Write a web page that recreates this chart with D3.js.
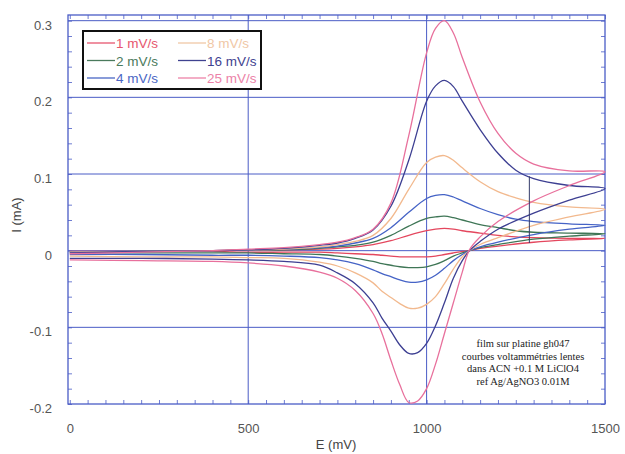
<!DOCTYPE html>
<html><head><meta charset="utf-8">
<script src="https://cdn.jsdelivr.net/npm/d3@7"></script>
<style>body{margin:0;background:#fff}svg{display:block}</style>
</head><body><div id="chart"></div>
<script>
// ---- data ----
const seriesLabels = ["1 mV/s","2 mV/s","4 mV/s","8 mV/s","16 mV/s","25 mV/s"];
const seriesColors = ["#e4475e","#3f7656","#4563c6","#f2b98e","#3d3f92","#e8709c"];
const legendColors = ["#e6566e","#4a7a5c","#4a66c4","#f0c7a6","#3f4290","#ec82a8"];
const xTicks = [0,500,1000,1500];
const yTicks = [-0.2,-0.1,0,0.1,0.2,0.3];
const yTickLabels = ["-0.2","-0.1","0","0.1","0.2","0.3"];
const xGrid = [500,1000];
const yGrid = [-0.1,0,0.1,0.2,0.3];
// forward (anodic) scan potentials, mV
const eForward = [0,200,400,500,600,700,750,800,850,900,950,1000,1025,1050,1075,1100,1150,1200,1250,1300,1400,1500];
// reverse (cathodic) scan potentials, mV
const eReverse = [1500,1400,1300,1200,1150,1120,1100,1075,1050,1025,1000,975,950,925,900,875,850,800,750,700,600,500,400,200,0];
// currents, mA
const fwd1  = [-0.001,-0.001,0,0.001,0.001,0.002,0.003,0.005,0.008,0.013,0.020,0.026,0.028,0.029,0.028,0.026,0.023,0.020,0.018,0.017,0.016,0.016];
const fwd2  = [-0.002,-0.001,0,0.001,0.001,0.003,0.005,0.007,0.011,0.020,0.032,0.042,0.044,0.045,0.043,0.040,0.034,0.030,0.026,0.024,0.023,0.022];
const fwd4  = [-0.002,-0.001,0,0.001,0.002,0.004,0.006,0.010,0.016,0.030,0.050,0.068,0.072,0.073,0.070,0.065,0.055,0.047,0.041,0.038,0.035,0.033];
const fwd8  = [-0.002,-0.001,0,0.001,0.002,0.005,0.008,0.012,0.020,0.042,0.080,0.115,0.122,0.124,0.118,0.108,0.090,0.077,0.069,0.063,0.057,0.054];
const fwd16 = [-0.003,-0.001,0,0.001,0.003,0.007,0.010,0.016,0.027,0.058,0.118,0.195,0.215,0.222,0.214,0.195,0.158,0.127,0.105,0.094,0.085,0.081];
const fwd25 = [-0.004,-0.002,0,0.002,0.004,0.008,0.011,0.017,0.028,0.062,0.150,0.258,0.290,0.300,0.284,0.252,0.194,0.153,0.127,0.113,0.104,0.103];
const rev1  = [0.016,0.014,0.011,0.006,0.003,0.000,-0.001,-0.003,-0.005,-0.007,-0.008,-0.008,-0.008,-0.008,-0.007,-0.006,-0.005,-0.004,-0.003,-0.002,-0.002,-0.002,-0.001,-0.001,-0.001];
const rev2  = [0.022,0.019,0.015,0.008,0.004,0.000,-0.003,-0.007,-0.013,-0.018,-0.021,-0.022,-0.022,-0.021,-0.019,-0.017,-0.014,-0.010,-0.007,-0.005,-0.004,-0.003,-0.003,-0.003,-0.003];
const rev4  = [0.033,0.028,0.021,0.011,0.005,0.000,-0.005,-0.013,-0.023,-0.032,-0.038,-0.041,-0.041,-0.038,-0.034,-0.030,-0.025,-0.017,-0.012,-0.009,-0.007,-0.006,-0.006,-0.005,-0.005];
const rev8  = [0.054,0.044,0.033,0.017,0.008,0.000,-0.008,-0.024,-0.043,-0.060,-0.070,-0.075,-0.075,-0.069,-0.061,-0.053,-0.042,-0.029,-0.020,-0.015,-0.010,-0.009,-0.008,-0.008,-0.007];
const rev16 = [0.081,0.066,0.049,0.028,0.012,0.000,-0.013,-0.036,-0.068,-0.098,-0.121,-0.133,-0.134,-0.123,-0.105,-0.088,-0.068,-0.043,-0.029,-0.019,-0.014,-0.012,-0.011,-0.010,-0.010];
const rev25 = [0.103,0.085,0.065,0.038,0.018,0.001,-0.028,-0.068,-0.108,-0.148,-0.180,-0.196,-0.198,-0.175,-0.143,-0.108,-0.082,-0.052,-0.036,-0.028,-0.020,-0.016,-0.014,-0.013,-0.012];
const forwardSets = [fwd1,fwd2,fwd4,fwd8,fwd16,fwd25];
const reverseSets = [rev1,rev2,rev4,rev8,rev16,rev25];
// drawn vertical marker line in the original
const markerE = [1288,1288];
const markerI = [0.010,0.097];
const noteLines = ["film sur platine gh047","courbes voltammétries lentes","dans ACN +0.1 M LiClO4","ref Ag/AgNO3 0.01M"];

// ---- layout ----
const W=625,H=454;
const mLeft=68,mRight=605,mTop=15,mBottom=404;
const svg=d3.select("#chart").append("svg").attr("width",W).attr("height",H);
const x=d3.scaleLinear().domain([-5,1500]).range([mLeft,mRight]);
const y=d3.scaleLinear().domain([-0.2,0.3074]).range([mBottom,mTop]);
const gridColor="#4a5cc6";
const font="'Liberation Sans', Arial, sans-serif";

// gridlines
svg.append("g").selectAll("line").data(xGrid).join("line")
  .attr("x1",d=>x(d)).attr("x2",d=>x(d)).attr("y1",mTop).attr("y2",mBottom)
  .attr("stroke",gridColor).attr("stroke-width",1);
svg.append("g").selectAll("line").data(yGrid).join("line")
  .attr("x1",mLeft).attr("x2",mRight).attr("y1",d=>y(d)).attr("y2",d=>y(d))
  .attr("stroke",gridColor).attr("stroke-width",1);

// minor ticks (inside)
const minorX=d3.range(0,1501,50), minorY=d3.range(-0.2,0.301,0.02);
const styleTicks=g=>{g.select(".domain").remove();g.selectAll("line").attr("stroke",gridColor).attr("stroke-width",0.8);};
svg.append("g").attr("transform",`translate(0,${mBottom})`).call(d3.axisBottom(x).tickValues(minorX).tickSize(-4).tickFormat("")).call(styleTicks);
svg.append("g").attr("transform",`translate(0,${mTop})`).call(d3.axisTop(x).tickValues(minorX).tickSize(-4).tickFormat("")).call(styleTicks);
svg.append("g").attr("transform",`translate(${mLeft},0)`).call(d3.axisLeft(y).tickValues(minorY).tickSize(-4).tickFormat("")).call(styleTicks);
svg.append("g").attr("transform",`translate(${mRight},0)`).call(d3.axisRight(y).tickValues(minorY).tickSize(-4).tickFormat("")).call(styleTicks);

// frame
svg.append("rect").attr("x",mLeft).attr("y",mTop).attr("width",mRight-mLeft).attr("height",mBottom-mTop)
  .attr("fill","none").attr("stroke",gridColor).attr("stroke-width",1.3);

// tick labels
const gx=svg.append("g").attr("transform",`translate(0,${mBottom})`)
  .call(d3.axisBottom(x).tickValues(xTicks).tickSize(0).tickPadding(20).tickFormat(d3.format("d")));
gx.select(".domain").remove();
gx.selectAll("text").attr("font-family",font).attr("font-size",13).attr("fill","#555");
const gy=svg.append("g").attr("transform",`translate(${mLeft},0)`)
  .call(d3.axisLeft(y).tickValues(yTicks).tickSize(0).tickPadding(16).tickFormat((d,i)=>yTickLabels[i]));
gy.select(".domain").remove();
gy.selectAll("text").attr("font-family",font).attr("font-size",13).attr("fill","#555").attr("dy","0.65em");

// axis titles
svg.append("text").attr("x",336).attr("y",449).attr("text-anchor","middle")
  .attr("font-family",font).attr("font-size",13).attr("fill","#444").text("E (mV)");
svg.append("text").attr("transform","translate(21,215) rotate(-90)").attr("text-anchor","middle")
  .attr("font-family",font).attr("font-size",13).attr("fill","#444").text("I (mA)");

// curves
const line=d3.line().x(d=>x(d[0])).y(d=>y(d[1])).curve(d3.curveCatmullRom.alpha(0.5));
const plot=svg.append("g");
seriesLabels.forEach((lab,i)=>{
  const pts=eForward.map((e,j)=>[e,forwardSets[i][j]]).concat(eReverse.map((e,j)=>[e,reverseSets[i][j]]).slice(1));
  plot.append("path").attr("d",line(pts)).attr("fill","none")
    .attr("stroke",seriesColors[i]).attr("stroke-width",1.3);
});
// marker line
svg.append("line").attr("x1",x(markerE[0])).attr("x2",x(markerE[1])).attr("y1",y(markerI[0])).attr("y2",y(markerI[1]))
  .attr("stroke","#333a6a").attr("stroke-width",1);

// legend
const lg=svg.append("g");
lg.append("rect").attr("x",83).attr("y",31).attr("width",178).attr("height",58)
  .attr("fill","#fff").attr("stroke","#111").attr("stroke-width",2);
seriesLabels.forEach((lab,i)=>{
  const col=Math.floor(i/3), row=i%3;
  const lx=col===0?87:178, ly=43+row*17.5;
  lg.append("line").attr("x1",lx).attr("x2",lx+28).attr("y1",ly).attr("y2",ly)
    .attr("stroke",legendColors[i]).attr("stroke-width",1.3);
  lg.append("text").attr("x",lx+29).attr("y",ly+5).attr("font-family",font).attr("font-size",13.5)
    .attr("fill",legendColors[i]).text(lab);
});

// note
svg.append("g").selectAll("text").data(noteLines).join("text")
  .attr("x",523).attr("y",(d,i)=>347+i*12.5).attr("text-anchor","middle")
  .attr("font-family","'Liberation Serif', 'Times New Roman', serif").attr("font-size",10.5).attr("fill","#222")
  .text(d=>d);
</script></body></html>
